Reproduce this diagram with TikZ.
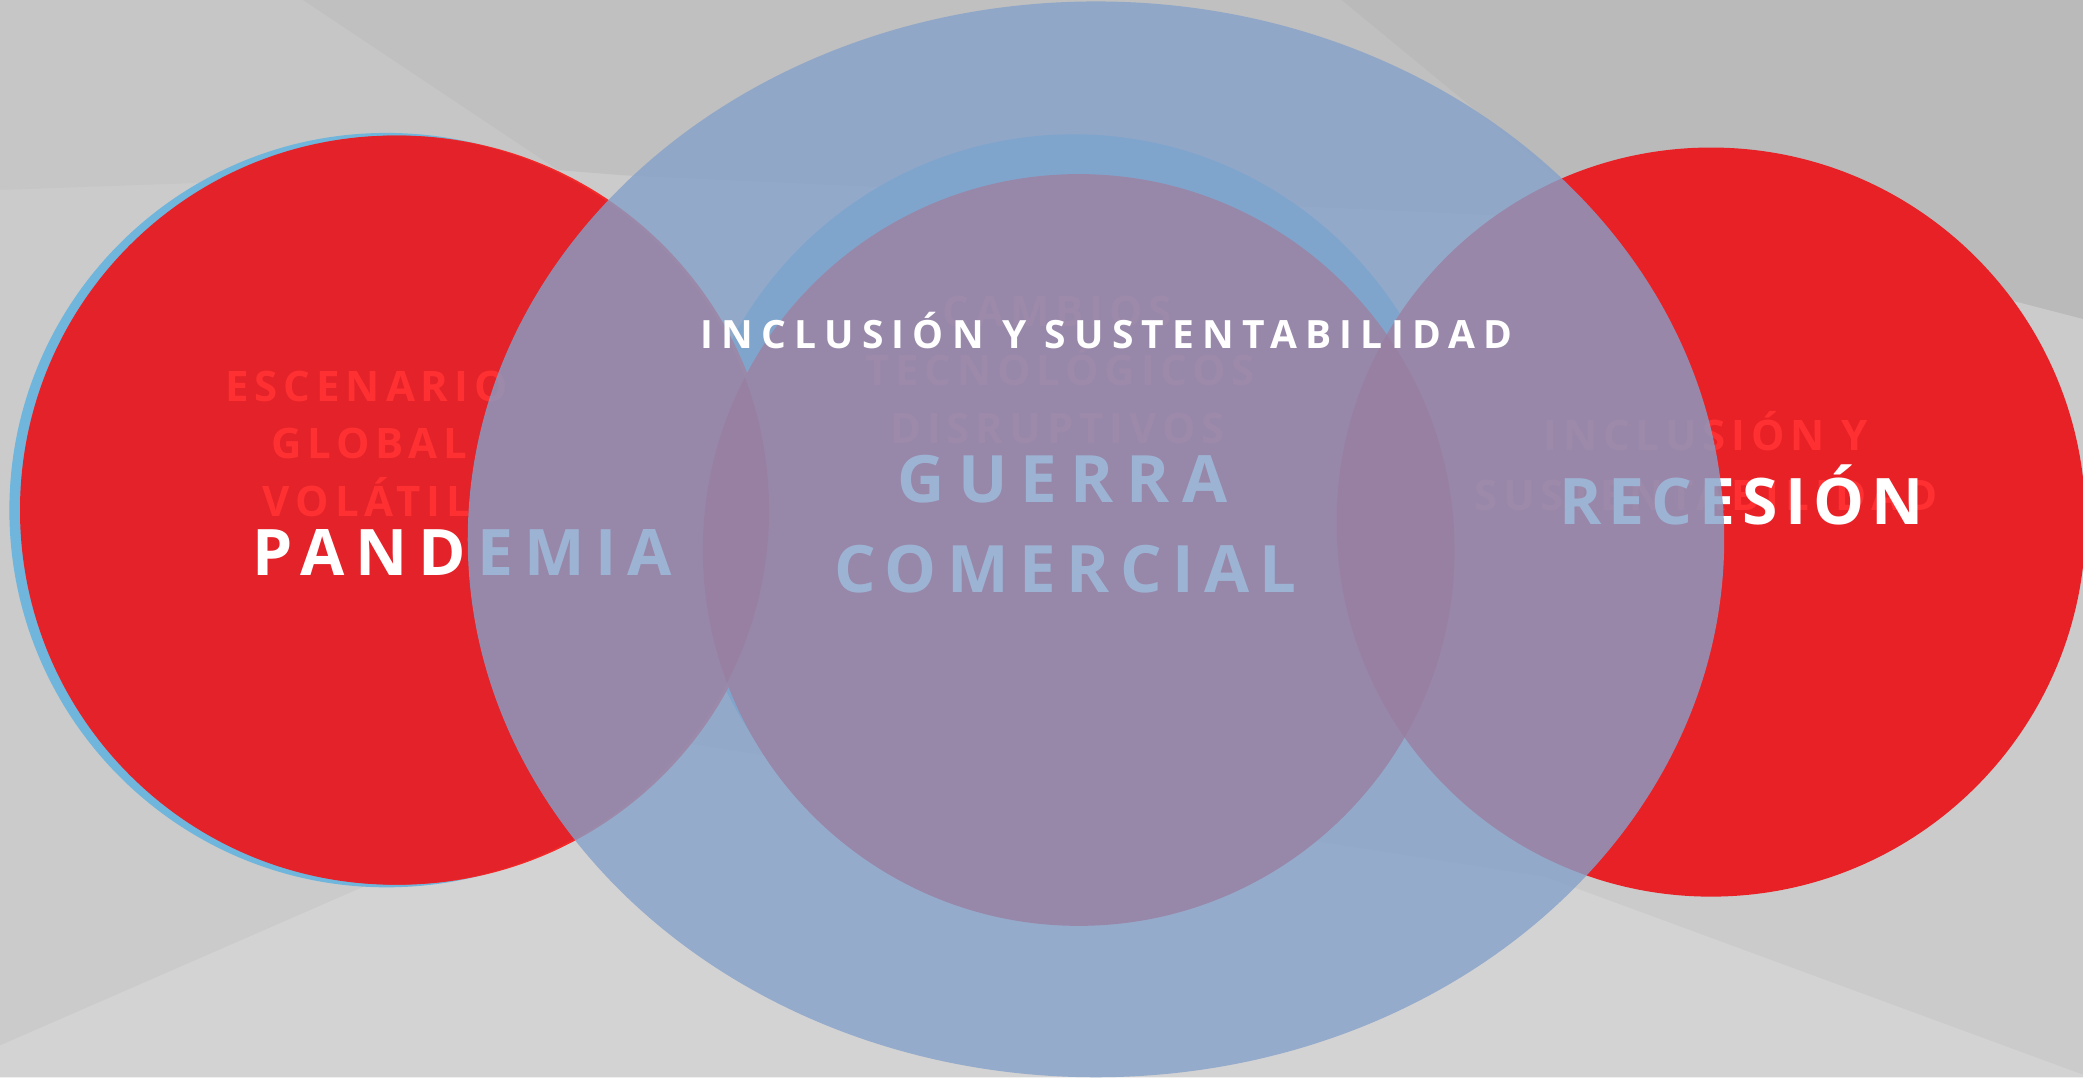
\documentclass[tikz,border=0pt]{standalone}
\usepackage{fontspec}
\newfontfamily\spacedfont{Open Sans}[LetterSpace=17]
\definecolor{bgbase}{HTML}{CBCBCB}
\definecolor{bgtopleft}{HTML}{C6C6C6}
\definecolor{bgtop}{HTML}{C0C0C0}
\definecolor{bgtopright}{HTML}{BABABA}
\definecolor{bgbottom}{HTML}{D4D3D4}
\definecolor{venred}{HTML}{E32229}
\definecolor{venredright}{HTML}{E82127}
\definecolor{rimred}{HTML}{F42A2A}
\definecolor{shadowblue}{HTML}{70B5DB}
\definecolor{lensred}{HTML}{E6000F}
\definecolor{faintred}{HTML}{FF3032}
\definecolor{veilblue}{HTML}{85A1C9}
\tikzset{
  faint/.style={text=faintred,anchor=base,inner sep=0pt,
    font=\spacedfont\bfseries\fontsize{18}{22}\selectfont\addfontfeature{LetterSpace=14}},
  bigword/.style={text=white,anchor=base,inner sep=0pt,
    font=\spacedfont\bfseries\fontsize{27.5}{32}\selectfont},
  headline/.style={text=white,anchor=base,inner sep=0pt,
    font=\spacedfont\bfseries\fontsize{16.7}{20}\selectfont\addfontfeature{LetterSpace=21}},
}
\begin{document}
\begin{tikzpicture}[x=0.02cm,y=-0.02cm]

% background
\fill[bgbase] (0,0) rectangle (1568,811);
\useasboundingbox (0,0) rectangle (1568,811);
\fill[bgtopleft] (0,0) -- (228,0) -- (420,128) -- (0,143) -- cycle;
\fill[bgtop] (228,0) -- (1568,0) -- (1568,240) -- (1300,170) -- (470,132) -- (420,128) -- cycle;
\fill[bgtopright] (1010,0) -- (1568,0) -- (1568,240) -- (1180,140) -- cycle;
\fill[bgbottom] (0,787) -- (520,560) -- (1163,660) -- (1568,809) -- (1568,811) -- (0,811) -- cycle;

% circles
\fill[shadowblue] (808,392) circle[radius=5.82cm];
\fill[shadowblue] (291,384) circle[radius=5.68cm];
\fill[rimred] (300,384) circle[radius=5.64cm];
\fill[venred] (297,384) circle[radius=5.64cm];
\fill[venred] (812,414) circle[radius=5.66cm];
\fill[venredright] (1288,393) circle[radius=5.64cm];

% overlaps
\begin{scope}
  \clip (812,414) circle[radius=5.66cm];
  \fill[lensred] (297,384) circle[radius=5.64cm];
  \fill[lensred] (1288,393) circle[radius=5.64cm];
\end{scope}

% faint texts
\node[faint] (escenario) at (276,302) {ESCENARIO};
\node[faint] (global) at (278,345) {GLOBAL};
\node[faint] (volatil) at (276,389) {VOLÁTIL};
\node[faint] (cambios) at (796,246) {CAMBIOS};
\node[faint] (tecnologicos) at (798,290) {TECNOLÓGICOS};
\node[faint] (disruptivos) at (796,334) {DISRUPTIVOS};
\node[faint] (inclusion) at (1284,339) {INCLUSIÓN Y};
\node[faint] (sustentabilidad) at (1284,384) {SUSTENTABILIDAD};

% labels
\node[bigword] (pandemia) at (348,433) {PANDEMIA};
\node[bigword,font=\spacedfont\bfseries\fontsize{28}{32}\selectfont\addfontfeature{LetterSpace=20}]
  (guerra) at (800,378) {GUERRA};
\node[bigword,font=\spacedfont\bfseries\fontsize{28}{32}\selectfont\addfontfeature{LetterSpace=16}]
  (comercial) at (802,446) {COMERCIAL};
\node[bigword,font=\spacedfont\bfseries\fontsize{27.5}{32}\selectfont\addfontfeature{LetterSpace=11}]
  (recesion) at (1311,395) {RECESIÓN};

% blue veil
\fill[veilblue,opacity=0.8] (825,406) ellipse[x radius=9.46cm,y radius=8.1cm];

\node[headline] (titulo) at (833,262) {INCLUSIÓN Y SUSTENTABILIDAD};

\end{tikzpicture}
\end{document}
